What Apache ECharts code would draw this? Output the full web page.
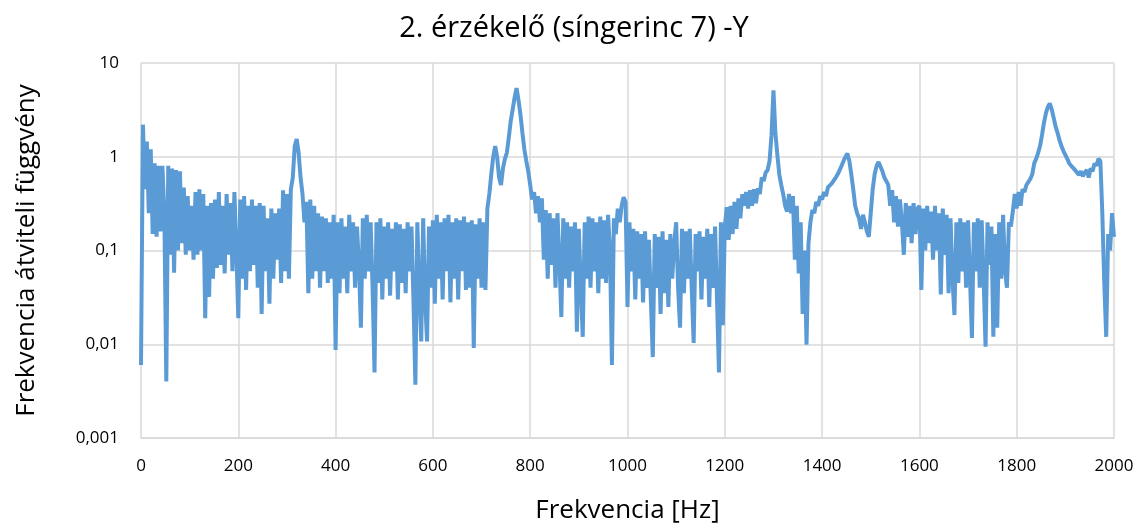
<!DOCTYPE html>
<html>
<head>
<meta charset="utf-8">
<script src="https://cdn.jsdelivr.net/npm/echarts@6/dist/echarts.min.js"></script>
<style>
  html, body { margin: 0; padding: 0; background: #fff; }
  #main { width: 1148px; height: 530px; }
</style>
</head>
<body>
<div id="main"></div>
<script>
// frekvencia lépés (Hz), minden szakasz 400 Hz
var STEP = 4;
var yTicks = [0.001, 0.01, 0.1, 1, 10];

// 0 - 396 Hz
var seg0000 = [0.006, 2.2, 0.45, 1.45, 0.25, 1.2, 0.15, 0.85, 0.14, 0.8,
  0.16, 0.8, 0.25, 0.004, 0.8, 0.09, 0.75, 0.058, 0.72, 0.1,
  0.7, 0.12, 0.47, 0.09, 0.38, 0.1, 0.3, 0.08, 0.42, 0.09,
  0.45, 0.1, 0.4, 0.019, 0.3, 0.032, 0.32, 0.05, 0.35, 0.065,
  0.42, 0.07, 0.3, 0.057, 0.4, 0.09, 0.32, 0.06, 0.42, 0.1,
  0.019, 0.35, 0.05, 0.38, 0.038, 0.3, 0.06, 0.35, 0.07, 0.3,
  0.04, 0.32, 0.021, 0.3, 0.06, 0.22, 0.027, 0.28, 0.05, 0.25,
  0.08, 0.28, 0.045, 0.44, 0.06, 0.4, 0.05, 0.45, 0.6, 1.3,
  1.55, 1.1, 0.6, 0.4, 0.2, 0.33, 0.035, 0.35, 0.05, 0.3,
  0.06, 0.25, 0.04, 0.23, 0.06, 0.22, 0.045, 0.2, 0.05, 0.24];

// 400 - 796 Hz
var seg0400 = [0.0087, 0.2, 0.035, 0.22, 0.05, 0.18, 0.035, 0.24, 0.06, 0.2,
  0.04, 0.18, 0.07, 0.015, 0.22, 0.05, 0.24, 0.06, 0.2, 0.04,
  0.005, 0.2, 0.045, 0.22, 0.03, 0.18, 0.05, 0.2, 0.033, 0.17,
  0.06, 0.2, 0.03, 0.19, 0.045, 0.17, 0.035, 0.2, 0.06, 0.18,
  0.03, 0.0037, 0.2, 0.04, 0.0107, 0.22, 0.03, 0.0107, 0.18, 0.04,
  0.21, 0.027, 0.24, 0.05, 0.2, 0.03, 0.22, 0.06, 0.24, 0.028,
  0.2, 0.05, 0.22, 0.03, 0.21, 0.06, 0.23, 0.038, 0.2, 0.04,
  0.21, 0.0091, 0.19, 0.05, 0.22, 0.04, 0.2, 0.038, 0.28, 0.4,
  0.65, 1.0, 1.3, 1.0, 0.6, 0.5, 0.75, 0.95, 1.1, 1.6,
  2.4, 3.2, 4.3, 5.4, 4.0, 2.8, 1.8, 1.2, 0.9, 0.7];

// 800 - 1196 Hz
var seg0800 = [0.5, 0.35, 0.42, 0.25, 0.38, 0.2, 0.36, 0.08, 0.27, 0.05,
  0.25, 0.07, 0.22, 0.04, 0.25, 0.08, 0.0195, 0.22, 0.05, 0.2,
  0.04, 0.18, 0.06, 0.2, 0.0136, 0.17, 0.04, 0.012, 0.2, 0.05,
  0.23, 0.04, 0.22, 0.06, 0.2, 0.035, 0.23, 0.05, 0.21, 0.045,
  0.24, 0.1, 0.006, 0.22, 0.15, 0.28, 0.2, 0.3, 0.37, 0.33,
  0.025, 0.2, 0.06, 0.17, 0.03, 0.16, 0.05, 0.15, 0.028, 0.16,
  0.04, 0.13, 0.03, 0.0073, 0.15, 0.04, 0.14, 0.021, 0.16, 0.035,
  0.13, 0.025, 0.15, 0.05, 0.12, 0.2, 0.04, 0.015, 0.17, 0.035,
  0.16, 0.05, 0.17, 0.04, 0.0103, 0.15, 0.06, 0.16, 0.03, 0.14,
  0.05, 0.17, 0.025, 0.15, 0.04, 0.18, 0.03, 0.005, 0.2, 0.016];

// 1200 - 1596 Hz
var seg1200 = [0.18, 0.29, 0.13, 0.3, 0.15, 0.33, 0.17, 0.36, 0.22, 0.4,
  0.3, 0.42, 0.28, 0.44, 0.3, 0.45, 0.32, 0.46, 0.4, 0.6,
  0.55, 0.68, 0.72, 0.9, 1.7, 5.1, 1.8, 1.05, 0.65, 0.5,
  0.4, 0.3, 0.26, 0.4, 0.25, 0.38, 0.08, 0.3, 0.057, 0.2,
  0.021, 0.1, 0.0099, 0.12, 0.2, 0.27, 0.25, 0.33, 0.3, 0.38,
  0.35, 0.42, 0.38, 0.47, 0.45, 0.52, 0.5, 0.6, 0.65, 0.72,
  0.8, 0.9, 1.0, 1.08, 0.9, 0.65, 0.45, 0.3, 0.25, 0.22,
  0.17, 0.24, 0.2, 0.16, 0.14, 0.25, 0.45, 0.65, 0.8, 0.88,
  0.85, 0.7, 0.6, 0.55, 0.5, 0.3, 0.44, 0.2, 0.38, 0.18,
  0.35, 0.2, 0.09, 0.32, 0.14, 0.3, 0.12, 0.32, 0.15, 0.28];

// 1600 - 2000 Hz
var seg1600 = [0.3, 0.038, 0.28, 0.1, 0.3, 0.12, 0.26, 0.08, 0.3, 0.1,
  0.25, 0.034, 0.28, 0.09, 0.24, 0.035, 0.22, 0.05, 0.0205, 0.2,
  0.045, 0.22, 0.06, 0.2, 0.04, 0.21, 0.05, 0.0117, 0.2, 0.06,
  0.22, 0.04, 0.21, 0.05, 0.0094, 0.2, 0.07, 0.18, 0.012, 0.15,
  0.015, 0.2, 0.05, 0.24, 0.06, 0.04, 0.2, 0.18, 0.26, 0.4,
  0.28, 0.42, 0.3, 0.45, 0.42, 0.5, 0.52, 0.58, 0.65, 0.85,
  0.95, 1.1, 1.3, 1.7, 2.3, 2.9, 3.4, 3.7, 3.2, 2.6,
  2.1, 1.8, 1.5, 1.3, 1.15, 1.05, 0.95, 0.85, 0.8, 0.76,
  0.72, 0.7, 0.64, 0.7, 0.62, 0.68, 0.72, 0.6, 0.75, 0.7,
  0.85, 0.8, 0.95, 0.9, 0.25, 0.045, 0.012, 0.15, 0.1, 0.25,
  0.14];

var segments = [[0, seg0000], [400, seg0400], [800, seg0800], [1200, seg1200], [1600, seg1600]];
var lineData = [];
segments.forEach(function (s) {
  s[1].forEach(function (v, i) {
    lineData.push([s[0] + i * STEP, v]);
  });
});

var myChart = echarts.init(document.getElementById('main'));
var font = '"Open Sans", "Noto Sans", sans-serif';
var option = {
  animation: false,
  title: {
    text: '2. érzékelő (síngerinc 7) -Y',
    left: 'center',
    top: 9,
    textStyle: { fontFamily: font, fontWeight: 'normal', fontSize: 29, color: '#000' }
  },
  grid: { left: 141, right: 34, top: 63, bottom: 92 },
  xAxis: {
    type: 'value',
    min: 0,
    max: 2000,
    interval: 200,
    name: 'Frekvencia [Hz]',
    nameLocation: 'middle',
    nameGap: 60,
    nameTextStyle: { fontFamily: font, fontSize: 26, color: '#000' },
    axisLine: { lineStyle: { color: '#d9d9d9', width: 1.5 } },
    axisTick: { show: false },
    axisLabel: {
      fontFamily: font, fontSize: 17, color: '#000', margin: 20,
      formatter: function (v) { return String(v); }
    },
    splitLine: { lineStyle: { color: '#d9d9d9', width: 1.5 } }
  },
  yAxis: {
    type: 'log',
    logBase: 10,
    min: yTicks[0],
    max: yTicks[yTicks.length - 1],
    name: 'Frekvencia átviteli függvény',
    nameLocation: 'middle',
    nameGap: 101,
    nameTextStyle: { fontFamily: font, fontSize: 26, color: '#000' },
    axisLine: { show: false },
    axisTick: { show: false },
    axisLabel: {
      fontFamily: font, fontSize: 17, color: '#000', margin: 22,
      formatter: function (v) {
        return parseFloat(v.toPrecision(3)).toString().replace('.', ',');
      }
    },
    splitLine: { lineStyle: { color: '#d9d9d9', width: 1.5 } }
  },
  series: [{
    type: 'line',
    data: lineData,
    showSymbol: false,
    lineStyle: { color: '#5b9bd5', width: 4 },
    itemStyle: { color: '#5b9bd5' }
  }]
};
myChart.setOption(option);
</script>
</body>
</html>
